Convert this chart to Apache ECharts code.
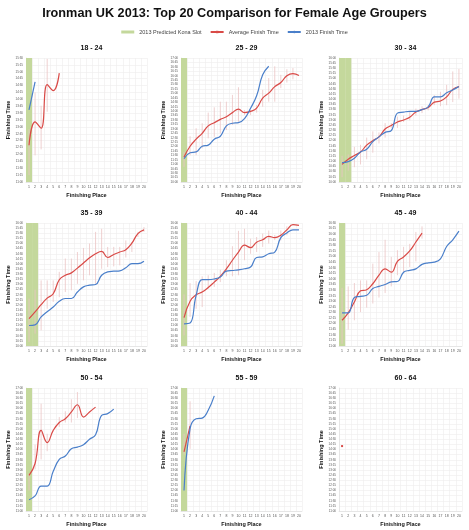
<!DOCTYPE html>
<html>
<head>
<meta charset="utf-8">
<script src="https://cdn.jsdelivr.net/npm/echarts@6/dist/echarts.min.js"></script>
<style>
html,body{margin:0;padding:0;background:#fff;}
#chart{width:469px;height:530px;}
</style>
</head>
<body>
<div id="chart"></div>
<script>
// ---------- DATA ----------
const places = ['1','2','3','4','5','6','7','8','9','10','11','12','13','14','15','16','17','18','19','20'];
const ageGroups = ['18 - 24','25 - 29','30 - 34','35 - 39','40 - 44','45 - 49','50 - 54','55 - 59','60 - 64'];
const yMinLabels = ['11:00','10:00','10:00','10:00','10:00','11:00','11:00','11:00','11:00'];
const yMaxLabels = ['15:30','17:00','16:00','16:00','16:00','16:30','17:00','17:00','17:00'];
const konaSlots = [1,1,2,2,1,1,1,1,0];

const avg1824 = ['12:20','13:11','12:57','14:32','14:19','14:57'];
const fin1824 = ['13:37','14:38'];
const hi1824  = ['12:55','14:15','13:46','15:28'];
const lo1824  = ['11:15','11:58','12:11','13:33'];

const avg2529 = ['11:25','12:01','12:25','12:45','13:10','13:21','13:32','13:41','13:55','14:07','13:55','13:59','14:10','14:44','15:01','15:23','15:37','16:00','16:07','16:01'];
const fin2529 = ['11:19','11:39','11:42','12:01','12:05','12:25','12:35','13:10','13:19','13:21','13:35','14:10','14:52','16:03','16:32'];
const hi2529  = ['11:42','12:35','13:02','13:19','13:55','14:13','14:32','14:32','14:55','15:21','14:04','14:04','14:21','15:12','15:52','16:32','16:03','16:22','16:26',null];
const lo2529  = ['10:51','11:31','11:31','11:54','12:28','12:33','12:45','12:56','13:13','13:24','13:47','13:47','13:55','14:15','14:32','14:32','15:18','15:37','15:48',null];

const avg3034 = ['10:51','11:06','11:17','11:27','11:47','12:00','12:11','12:34','12:44','12:54','13:00','13:08','13:23','13:30','13:36','13:52','13:55','14:07','14:29','14:37'];
const fin3034 = ['10:56','10:59','11:09','11:27','11:35','11:57','12:11','12:24','12:29','13:20','13:23','13:25','13:25','13:30','13:38','14:07','14:07','14:19','14:27','14:37'];
const hi3034  = ['11:16','11:20','11:42','11:48','12:09','12:27','12:24','12:51','12:51','13:10','13:13','13:23','13:33','13:40','13:43','14:12','14:22','14:42','15:21','15:28'];
const lo3034  = ['10:14','10:33','10:43','10:51','11:06','11:25','11:52','12:09','12:37','12:37','12:54','12:59','13:13','13:20','13:28','13:43','13:40','13:43','13:52','14:02'];

const avg3539 = ['11:20','11:40','12:01','12:20','12:33','13:14','13:27','13:34','13:48','14:03','14:18','14:30','14:37','14:19','14:28','14:35','14:42','15:01','15:29','15:40'];
const fin3539 = ['11:00','11:02','11:25','11:40','11:54','12:11','12:19','12:19','12:38','12:53','12:58','13:00','13:27','13:37','13:39','13:40','13:49','14:01','14:01','14:08'];
const hi3539  = ['12:19','12:45','13:12','13:12','13:12','13:37','14:16','14:16','14:35','14:47','15:00','15:34','15:43','14:50','14:50','14:50','15:09','15:04','15:34','15:48'];
const lo3539  = ['10:12','10:36','10:46','11:49','12:09','12:23','12:38','12:43','13:02','13:12','13:27','13:02','13:46','13:51','13:53','13:56','14:19','14:35','15:19','15:34'];

const avg4044 = ['11:23','12:11','12:30','12:38','12:51','13:07','13:24','13:46','14:11','14:35','14:55','14:48','15:04','15:11','15:21','15:17','15:24','15:40','15:55','15:53'];
const fin4044 = ['11:05','11:07','12:28','13:14','13:14','13:16','13:22','13:39','13:41','13:43','13:46','13:51','14:19','14:21','14:30','14:35','15:17','15:31','15:40','15:40'];
const hi4044  = ['12:31','13:04','13:10','13:24','13:27','13:34','13:43','14:11','14:52','15:37','15:43','15:14','15:19','15:29','15:38','15:25','15:38','15:50'];
const lo4044  = ['10:31','11:25','11:49','11:54','12:48','12:53','13:07','13:24','13:24','13:27','14:11','14:30','14:35','14:50','15:00','15:10','15:09','15:24'];

const avg4549 = ['12:09','12:29','12:58','13:28','13:31','13:47','14:10','14:27','14:18','14:47','14:59','15:15','15:39','16:03'];
const fin4549 = ['12:29','12:29','13:10','13:13','13:16','13:34','13:40','13:45','13:52','13:53','14:18','14:23','14:27','14:39','14:43','14:45','14:54','15:27','15:45','16:08'];
const hi4549  = ['13:36','13:40','13:49','13:56','13:56','14:41','15:12','15:45','14:59','15:17','15:26','15:34','16:06','16:21'];
const lo4549  = ['11:06','11:44','12:09','12:31','12:43','12:54','13:10','13:22','13:40','14:10','14:16','14:32','14:47','15:48'];

const avg5054 = ['12:44','13:19','14:56','14:20','14:56','15:19','15:30','15:50','16:11','15:35','15:50','16:04'];
const fin5054 = ['11:33','11:44','12:13','12:13','12:56','13:31','13:41','14:02','14:07','14:14','14:30','14:43','15:40','15:45','15:58'];
const hi5054  = ['12:49','14:14','16:14','14:46',null,'15:35','15:52','16:27','16:48'];
const lo5054  = ['12:00','13:02','13:31','13:55',null,'15:06','15:19','15:19','15:32'];

const avg5559 = ['13:53','15:09'];
const fin5559 = ['12:00','15:01','15:30','15:32','15:55','16:37'];
const hi5559  = ['14:46','16:21'];
const lo5559  = ['13:45','14:02'];

const avg6064 = ['14:10'];
const fin6064 = [];
const hi6064  = [];
const lo6064  = [];

const avgSets = [avg1824,avg2529,avg3034,avg3539,avg4044,avg4549,avg5054,avg5559,avg6064];
const finSets = [fin1824,fin2529,fin3034,fin3539,fin4044,fin4549,fin5054,fin5559,fin6064];
const hiSets  = [hi1824,hi2529,hi3034,hi3539,hi4044,hi4549,hi5054,hi5559,hi6064];
const loSets  = [lo1824,lo2529,lo3034,lo3539,lo4044,lo4549,lo5054,lo5559,lo6064];

// ---------- HELPERS ----------
const toMin = s => { if (s == null) return null; const p = s.split(':'); return (+p[0]) * 60 + (+p[1]); };
const fmt = v => { const h = Math.floor(v / 60), m = Math.round(v - h * 60); return h + ':' + String(m).padStart(2, '0'); };

const KONA = '2013 Predicted Kona Slot', AVG = 'Average Finish Time', FIN = '2013 Finish Time';
const RED = '#d94a47', BLUE = '#4a7fca', GREEN = '#c4d89c';
const FONT = 'Liberation Sans';

// layout
const colLeft = [26, 181, 339], colWidth = [121, 121, 123];
const rowTop = [58, 223, 388], rowHeight = [124, 123, 123];
const titleTop = [40, 205, 370];

const grids = [], xAxes = [], yAxes = [], series = [];
const titles = [{
  text: 'Ironman UK 2013: Top 20 Comparison for Female Age Groupers',
  left: 'center', top: 2,
  textStyle: { fontFamily: FONT, fontWeight: 'bold', fontSize: 12.7, color: '#111' }
}];

ageGroups.forEach((g, i) => {
  const r = Math.floor(i / 3), c = i % 3;
  grids.push({ left: colLeft[c], top: rowTop[r], width: colWidth[c], height: rowHeight[r], containLabel: false });
  titles.push({
    text: g, left: colLeft[c] + colWidth[c] / 2, top: titleTop[r], textAlign: 'center',
    textStyle: { fontFamily: FONT, fontWeight: 'bold', fontSize: 7, color: '#111' }
  });
  xAxes.push({
    type: 'category', gridIndex: i, data: places, boundaryGap: true,
    name: 'Finishing Place', nameLocation: 'middle', nameGap: 10,
    nameTextStyle: { fontFamily: FONT, fontWeight: 'bold', fontSize: 5.5, color: '#111' },
    axisLine: { show: true, lineStyle: { color: '#dcdcdc', width: 0.6 } },
    axisTick: { show: false },
    axisLabel: { interval: 0, fontSize: 3.5, margin: 3, color: '#555', fontFamily: FONT },
    splitLine: { show: true, interval: 0, lineStyle: { color: '#efecec', width: 0.6 } }
  });
  yAxes.push({
    type: 'value', gridIndex: i,
    min: toMin(yMinLabels[i]), max: toMin(yMaxLabels[i]), interval: 15,
    name: 'Finishing Time', nameLocation: 'middle', nameGap: 15,
    nameTextStyle: { fontFamily: FONT, fontWeight: 'bold', fontSize: 5.5, color: '#111' },
    axisLine: { show: true, lineStyle: { color: '#dcdcdc', width: 0.6 } },
    axisTick: { show: false },
    axisLabel: { fontSize: 3, margin: 3, color: '#555', fontFamily: FONT, formatter: v => fmt(v) },
    splitLine: { show: true, lineStyle: { color: '#efecec', width: 0.6 } }
  });

  const yMax = toMin(yMaxLabels[i]);
  series.push({
    name: KONA, type: 'bar', xAxisIndex: i, yAxisIndex: i,
    data: places.map((p, j) => j < konaSlots[i] ? yMax : null),
    barWidth: '100%', barGap: '-100%', clip: true, silent: true, z: 1,
    itemStyle: { color: GREEN }
  });

  const errData = [];
  hiSets[i].forEach((h, j) => {
    const l = loSets[i][j];
    if (h != null && l != null) errData.push([j, toMin(l), toMin(h)]);
  });
  series.push({
    name: 'range', type: 'custom', xAxisIndex: i, yAxisIndex: i, z: 2, silent: true,
    data: errData, encode: { x: 0, y: [1, 2] },
    renderItem: (params, api) => {
      const x = api.value(0);
      const p1 = api.coord([x, api.value(1)]);
      const p2 = api.coord([x, api.value(2)]);
      return { type: 'line', shape: { x1: p1[0], y1: p1[1], x2: p2[0], y2: p2[1] },
               style: { stroke: '#ebc4c4', lineWidth: 0.8 } };
    }
  });

  const avgData = avgSets[i].map(toMin);
  series.push({
    name: AVG, type: 'line', xAxisIndex: i, yAxisIndex: i, z: 3,
    data: avgData, smooth: 0.45,
    symbol: 'rect', symbolSize: 2, showSymbol: avgData.length === 1,
    itemStyle: { color: RED }, lineStyle: { color: RED, width: 1.2 }
  });
  series.push({
    name: FIN, type: 'line', xAxisIndex: i, yAxisIndex: i, z: 4,
    data: finSets[i].map(toMin), smooth: 0.45,
    symbol: 'none', showSymbol: false,
    itemStyle: { color: BLUE }, lineStyle: { color: BLUE, width: 1.2 }
  });
});

const chart = echarts.init(document.getElementById('chart'), null, { renderer: 'canvas' });
chart.setOption({
  backgroundColor: '#fff',
  animation: false,
  title: titles,
  legend: {
    top: 24, left: 'center', itemWidth: 13, itemHeight: 3, itemGap: 8,
    textStyle: { fontFamily: FONT, fontSize: 5.5, color: '#444' },
    data: [{ name: KONA, icon: 'rect' }, AVG, FIN]
  },
  grid: grids,
  xAxis: xAxes,
  yAxis: yAxes,
  series: series
});
</script>
</body>
</html>
